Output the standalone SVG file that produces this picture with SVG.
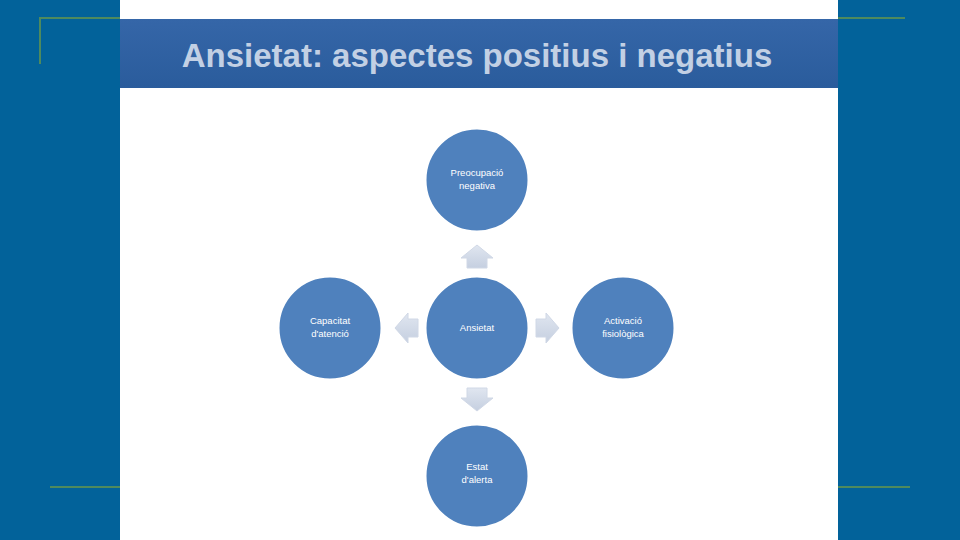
<svg xmlns="http://www.w3.org/2000/svg" width="960" height="540" viewBox="0 0 960 540">
<defs>
<linearGradient id="tb" x1="0" y1="0" x2="0" y2="1">
<stop offset="0" stop-color="#3566A8"/>
<stop offset="1" stop-color="#2A5C9C"/>
</linearGradient>
<linearGradient id="ar" x1="0" y1="0" x2="0" y2="1">
<stop offset="0" stop-color="#E0E6F0"/>
<stop offset="1" stop-color="#C5CFE0"/>
</linearGradient>
</defs>
<style>
.node circle{fill:#4F81BD;stroke:#FFFFFF;stroke-width:3}
.node text{fill:#FFFFFF;font-family:"Liberation Sans",Arial,sans-serif;font-size:9.5px;text-anchor:middle}
.arr{fill:url(#ar);stroke:#D0D8E6;stroke-width:1}
.deco{stroke:#4E8A5E;stroke-width:2;fill:none}
</style>
<rect x="0" y="0" width="960" height="540" fill="#02629A"/>
<path class="deco" d="M40,64 V18 H905"/>
<line class="deco" x1="50" y1="487" x2="910" y2="487"/>
<rect x="120" y="0" width="718" height="540" fill="#FFFFFF"/>
<rect x="120" y="19" width="718" height="69" fill="url(#tb)"/>
<text x="477" y="67" text-anchor="middle" font-family="Liberation Sans,Arial,sans-serif" font-weight="bold" font-size="33" fill="#C2D0E4">Ansietat: aspectes positius i negatius</text>
<g id="connectors">
<polygon class="arr" points="467,268 467,258 461,258 477,245 493,258 487,258 487,268"/>
<polygon class="arr" points="418,319 408,319 408,313 395,328 408,343 408,337 418,337"/>
<polygon class="arr" points="536,319 546,319 546,313 559,328 546,343 546,337 536,337"/>
<polygon class="arr" points="467,388 467,398 461,398 477,411 493,398 487,398 487,388"/>
</g>
<g id="n-top" class="node"><circle cx="477" cy="180" r="52"/><text x="477" y="176">Preocupació</text><text x="477" y="189">negativa</text></g>
<g id="n-left" class="node"><circle cx="330" cy="328" r="52"/><text x="330" y="324">Capacitat</text><text x="330" y="337">d'atenció</text></g>
<g id="n-center" class="node"><circle cx="477" cy="328" r="52"/><text x="477" y="331">Ansietat</text></g>
<g id="n-right" class="node"><circle cx="623" cy="328" r="52"/><text x="623" y="324">Activació</text><text x="623" y="337">fisiològica</text></g>
<g id="n-bottom" class="node"><circle cx="477" cy="476" r="52"/><text x="477" y="470">Estat</text><text x="477" y="483">d'alerta</text></g>
</svg>
